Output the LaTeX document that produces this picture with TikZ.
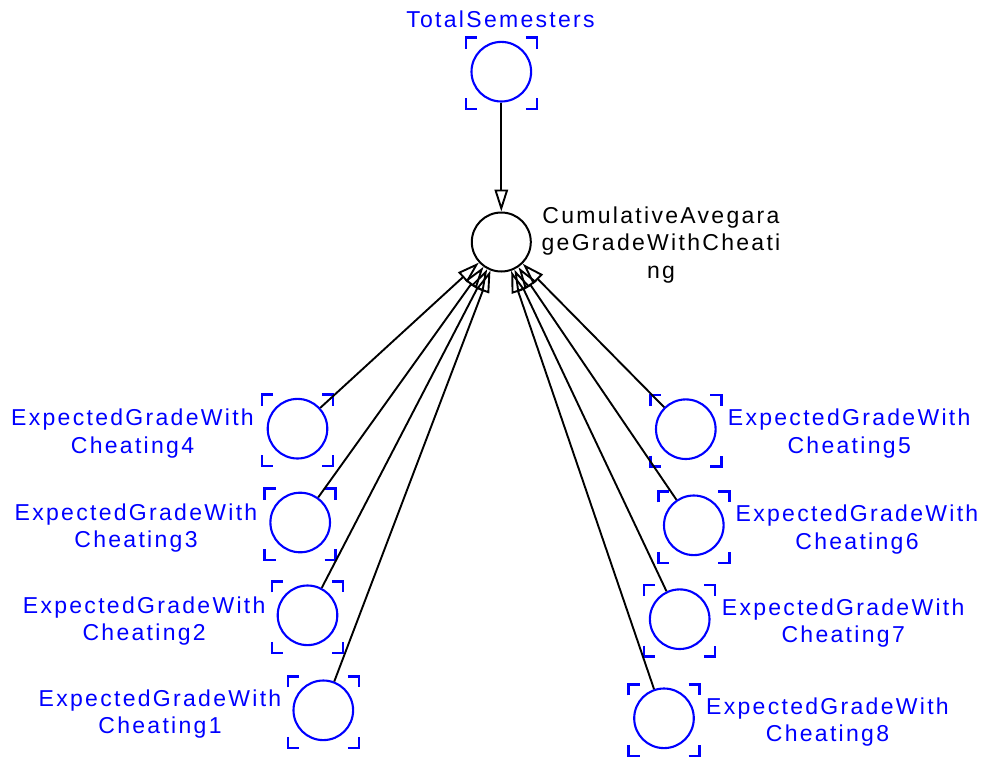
\documentclass[tikz,border=0pt]{standalone}
\usepackage{fontspec}
\setmainfont{Liberation Sans}[LetterSpace=10]
\usetikzlibrary{arrows.meta}

\definecolor{varblue}{RGB}{0,0,255}

\tikzset{
  chance/.style={circle, draw=varblue, line width=2.1pt, minimum size=59.6pt,
    inner sep=0pt},
  result/.style={circle, draw=black, line width=2pt, minimum size=59pt,
    inner sep=0pt},
  vlabel/.style={text=varblue, align=center, inner sep=0pt,
    font=\fontsize{23}{27.5}\selectfont},
  rlabel/.style={text=black, align=center, inner sep=0pt,
    font=\fontsize{23}{27.5}\selectfont},
  corner/.style={draw=varblue, line width=2.5pt, line join=miter},
  influence/.style={draw=black, line width=1.9pt,
    -{Triangle[open, length=22pt, width=13.5pt]}},
}

% four corner marks framing a variable node
\newcommand\framemarks[1]{%
  \path[corner] ([shift={(-35.5,-23)}]#1.center) -- ++(0,-11) -- ++(11,0);
  \path[corner] ([shift={(24.5,-34)}]#1.center) -- ++(11,0) -- ++(0,11);
  \path[corner] ([shift={(-35.5,26.5)}]#1.center) -- ++(0,11) -- ++(11,0);
  \path[corner] ([shift={(24.5,37.5)}]#1.center) -- ++(11,0) -- ++(0,-11);
}

\begin{document}
\begin{tikzpicture}[x=1pt, y=-1pt]
  \useasboundingbox (0,0) rectangle (983,756);

  % variable nodes
  \node[chance] (ts) at (501.3,71.7) {};
  \node[result] (cum) at (501.3,242) {};
  \node[chance] (c4) at (297.5,428.7) {};
  \node[chance] (c3) at (300.2,522.5) {};
  \node[chance] (c2) at (307.5,615.3) {};
  \node[chance] (c1) at (323.3,710.3) {};
  \node[chance] (c5) at (685.8,429.2) {};
  \node[chance] (c6) at (693.8,525.3) {};
  \node[chance] (c7) at (679.7,619.2) {};
  \node[chance] (c8) at (664,718.3) {};

  \foreach \n in {ts,c1,c2,c3,c4,c5,c6,c7,c8}{\framemarks{\n}}

  % labels
  \node[vlabel, anchor=base] (tsl) at (500.5,27) {TotalSemesters};
  \node[rlabel] (cuml) at (661,244.6)
    {CumulativeAvegara\\geGradeWithCheati\\ng};
  \node[vlabel] (c4l) at (132.5,433.5) {ExpectedGradeWith\\Cheating4};
  \node[vlabel] (c3l) at (136,527.8) {ExpectedGradeWith\\Cheating3};
  \node[vlabel] (c2l) at (144.2,621) {ExpectedGradeWith\\Cheating2};
  \node[vlabel] (c1l) at (160,713.8) {ExpectedGradeWith\\Cheating1};
  \node[vlabel] (c5l) at (849.2,433.5) {ExpectedGradeWith\\Cheating5};
  \node[vlabel] (c6l) at (857,529.5) {ExpectedGradeWith\\Cheating6};
  \node[vlabel] (c7l) at (843.2,622.8) {ExpectedGradeWith\\Cheating7};
  \node[vlabel] (c8l) at (827.5,721.8) {ExpectedGradeWith\\Cheating8};

  % influences
  \draw[influence] (ts) -- (cum);
  \foreach \n in {c1,c2,c3,c4,c5,c6,c7,c8}{\draw[influence] (\n) -- (cum);}
\end{tikzpicture}
\end{document}
